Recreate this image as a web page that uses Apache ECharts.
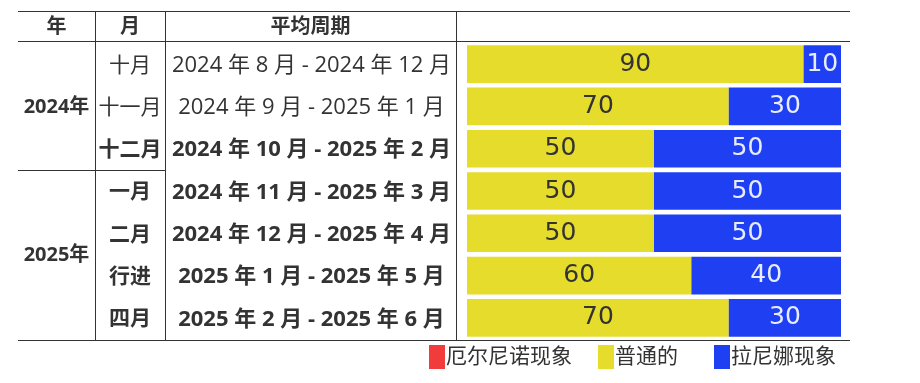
<!DOCTYPE html>
<html>
<head>
<meta charset="utf-8">
<script src="https://cdn.jsdelivr.net/npm/echarts@6/dist/echarts.min.js"></script>
<style>
  html, body { margin: 0; padding: 0; background: #fff; }
  #main { width: 920px; height: 383px; }
</style>
</head>
<body>
<div id="main"></div>
<script>
// 数据
var months = ['十月', '十一月', '十二月', '一月', '二月', '行进', '四月'];
var periods = [
  '2024 年 8 月 - 2024 年 12 月',
  '2024 年 9 月 - 2025 年 1 月',
  '2024 年 10 月 - 2025 年 2 月',
  '2024 年 11 月 - 2025 年 3 月',
  '2024 年 12 月 - 2025 年 4 月',
  '2025 年 1 月 - 2025 年 5 月',
  '2025 年 2 月 - 2025 年 6 月'
];
var years = ['2024年', '2025年'];
var yearRows = [[0, 3], [3, 7]]; // 每年所占的行
var seriesNames = ['厄尔尼诺现象', '普通的', '拉尼娜现象'];
var elNino = [0, 0, 0, 0, 0, 0, 0];
var neutral = [90, 70, 50, 50, 50, 60, 70];
var laNina = [10, 30, 50, 50, 50, 40, 30];
var boldFrom = 2; // 从第三行起加粗

var FONT = '"Open Sans", "Noto Sans CJK SC"';
var ink = '#333';

// 表格布局
var grid = { left: 467, right: 79, top: 43, bottom: 44 };
var tbl = { left: 18, right: 850, top: 11, head: 41, bottom: 340, c1: 95, c2: 165, c3: 456 };
var band = (383 - grid.top - grid.bottom) / months.length;
var legendX = [429, 598, 714];

function richFor(size) {
  return {
    n: { fontFamily: FONT, fontSize: size, color: ink, fontWeight: 'normal', padding: [3, 0, 0, 0] },
    b: { fontFamily: FONT, fontSize: size, color: ink, fontWeight: 'bold', padding: [3, 0, 0, 0] }
  };
}
function rowLabel(v, i) {
  return i >= boldFrom ? '{b|' + v + '}' : '{n|' + v + '}';
}

function hline(y, x1, x2) {
  return { type: 'line', silent: true, shape: { x1: x1, y1: y, x2: x2, y2: y }, style: { stroke: ink, lineWidth: 1 } };
}
function vline(x, y1, y2) {
  return { type: 'line', silent: true, shape: { x1: x, y1: y1, x2: x, y2: y2 }, style: { stroke: ink, lineWidth: 1 } };
}
function txt(s, x, y, bold) {
  return {
    type: 'text', silent: true, x: x, y: y,
    style: { text: s, fill: ink, font: (bold ? 'bold ' : '') + '20px ' + FONT, textAlign: 'center', textVerticalAlign: 'middle' }
  };
}

var graphics = [
  hline(tbl.top + 0.5, tbl.left, tbl.right),
  hline(tbl.head + 0.5, tbl.left, tbl.right),
  hline(tbl.bottom + 0.5, tbl.left, tbl.right),
  hline(Math.round(grid.top + band * yearRows[1][0]) + 0.5, tbl.left, tbl.c2),
  vline(tbl.c1 + 0.5, tbl.top, tbl.bottom),
  vline(tbl.c2 + 0.5, tbl.top, tbl.bottom),
  vline(tbl.c3 + 0.5, tbl.top, tbl.bottom),
  txt('年', (tbl.left + tbl.c1) / 2, (tbl.top + tbl.head) / 2 + 1, true),
  txt('月', (tbl.c1 + tbl.c2) / 2, (tbl.top + tbl.head) / 2 + 1, true),
  txt('平均周期', (tbl.c2 + tbl.c3) / 2, (tbl.top + tbl.head) / 2 + 1, true)
];
years.forEach(function (y, k) {
  var mid = grid.top + band * (yearRows[k][0] + yearRows[k][1]) / 2;
  graphics.push(txt(y, (tbl.left + tbl.c1) / 2, mid + 1, true));
});

function barLabel(color) {
  return {
    show: true, position: 'inside', color: color,
    fontFamily: 'DejaVu Sans', fontSize: 25, fontWeight: 'normal', padding: [3, 0, 0, 0],
    formatter: function (p) { return p.value ? p.value : ''; }
  };
}

var legends = seriesNames.map(function (n, i) {
  return {
    left: legendX[i], top: 345, padding: 0, itemWidth: 16, itemHeight: 24,
    icon: 'rect', selectedMode: false,
    textStyle: { fontFamily: FONT, fontSize: 21, color: ink, padding: [0, 0, 0, -4] },
    data: [n]
  };
});

var chart = echarts.init(document.getElementById('main'));
chart.setOption({
  animation: false,
  grid: grid,
  legend: legends,
  xAxis: { type: 'value', min: 0, max: 100, show: false },
  yAxis: [
    {
      type: 'category', data: months, inverse: true, position: 'left',
      axisLine: { show: false }, axisTick: { show: false },
      axisLabel: { align: 'center', margin: grid.left - (tbl.c1 + tbl.c2) / 2, formatter: rowLabel, rich: richFor(21) }
    },
    {
      type: 'category', data: periods, inverse: true, position: 'left',
      axisLine: { show: false }, axisTick: { show: false },
      axisLabel: { align: 'center', margin: grid.left - (tbl.c2 + tbl.c3) / 2 - 1, formatter: rowLabel, rich: richFor(22) }
    }
  ],
  graphic: graphics,
  series: [
    { name: seriesNames[0], type: 'bar', stack: 'all', data: elNino, barCategoryGap: '11%',
      itemStyle: { color: '#f23b3b' }, label: barLabel('#fff') },
    { name: seriesNames[1], type: 'bar', stack: 'all', data: neutral, barCategoryGap: '11%',
      itemStyle: { color: '#e6dc2c' }, label: barLabel('#333') },
    { name: seriesNames[2], type: 'bar', stack: 'all', data: laNina, barCategoryGap: '11%',
      itemStyle: { color: '#1f40f2' }, label: barLabel('#e8ecff') }
  ]
});
</script>
</body>
</html>
